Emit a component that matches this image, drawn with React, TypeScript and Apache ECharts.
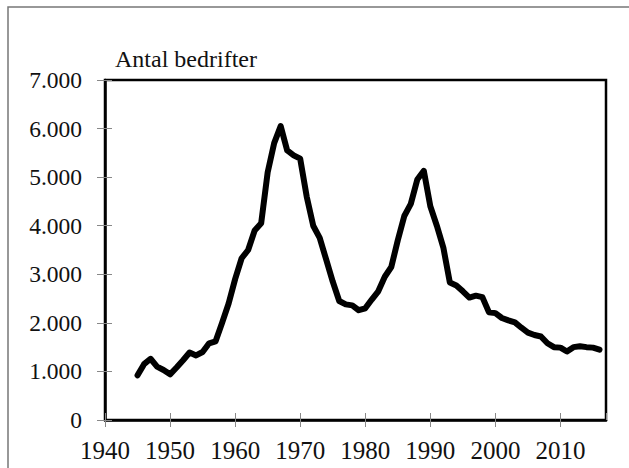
import React, { useEffect, useRef } from "react";
import * as echarts from "echarts";

const years: number[] = [
  1945, 1946, 1947, 1948, 1949, 1950, 1951, 1952, 1953, 1954, 1955, 1956, 1957, 1958, 1959,
  1960, 1961, 1962, 1963, 1964, 1965, 1966, 1967, 1968, 1969, 1970, 1971, 1972, 1973, 1974,
  1975, 1976, 1977, 1978, 1979, 1980, 1981, 1982, 1983, 1984, 1985, 1986, 1987, 1988, 1989,
  1990, 1991, 1992, 1993, 1994, 1995, 1996, 1997, 1998, 1999, 2000, 2001, 2002, 2003, 2004,
  2005, 2006, 2007, 2008, 2009, 2010, 2011, 2012, 2013, 2014, 2015, 2016,
];

const companies: number[] = [
  920, 1150, 1260, 1100, 1030, 940, 1080, 1230, 1390, 1330, 1400, 1580, 1620, 2000, 2400,
  2900, 3330, 3500, 3900, 4050, 5100, 5700, 6050, 5550, 5450, 5380, 4600, 4000, 3750, 3300,
  2850, 2450, 2380, 2360, 2260, 2300, 2480, 2650, 2950, 3150, 3700, 4200, 4450, 4950, 5130,
  4400, 4000, 3550, 2830, 2770, 2650, 2520, 2560, 2530, 2220, 2200, 2100, 2050, 2010, 1900,
  1800, 1750, 1720, 1580, 1500, 1490, 1410, 1500, 1520, 1500, 1490, 1450,
];

const yTitle = "Antal bedrifter";
const xMin = 1940;
const xMax = 2017;
const yMax = 7000;

const FONT = "'Liberation Serif', 'Times New Roman', serif";

function fmt(v: number): string {
  if (v === 0) return "0";
  const s = String(Math.round(v));
  return s.replace(/\B(?=(\d{3})+(?!\d))/g, ".");
}

export default function App() {
  const ref = useRef<HTMLDivElement>(null);

  useEffect(() => {
    if (!ref.current) return;
    const chart = echarts.init(ref.current, undefined, { renderer: "svg" });
    const grid = { left: 105, right: 23, top: 80, bottom: 48 };
    chart.setOption({
      animation: false,
      backgroundColor: "#fff",
      title: {
        text: yTitle,
        left: 115,
        top: 47,
        padding: 0,
        textStyle: { fontFamily: FONT, fontSize: 24, fontWeight: "normal", color: "#111" },
      },
      graphic: [
        {
          type: "rect",
          shape: { x: 8, y: 7, width: 700, height: 600 },
          style: { fill: "none", stroke: "#777", lineWidth: 1.5 },
          silent: true,
        },
      ],
      grid: {
        ...grid,
        show: true,
        borderColor: "#000",
        borderWidth: 2.5,
        backgroundColor: "#fff",
      },
      xAxis: [
        {
          type: "value",
          min: xMin,
          max: xMax,
          interval: 10,
          position: "bottom",
          axisLine: { show: true, onZero: false, lineStyle: { color: "#000", width: 2.5 } },
          axisTick: { show: true, inside: false, length: 7, lineStyle: { color: "#888", width: 1 } },
          axisLabel: {
            margin: 18,
            fontFamily: FONT,
            fontSize: 25,
            color: "#111",
            formatter: (v: number) => (v % 10 === 0 ? String(v) : ""),
            showMaxLabel: false,
          },
          splitLine: { show: false },
        },
        {
          type: "value",
          min: xMin,
          max: xMax,
          interval: 10,
          position: "bottom",
          axisLine: { show: false, onZero: false },
          axisTick: { show: true, inside: true, length: 7, lineStyle: { color: "#888", width: 1 } },
          axisLabel: { show: false },
          splitLine: { show: false },
        },
      ],
      yAxis: [
        {
          type: "value",
          min: 0,
          max: yMax,
          interval: 1000,
          position: "left",
          axisLine: { show: true, onZero: false, lineStyle: { color: "#000", width: 2.5 } },
          axisTick: { show: true, inside: false, length: 8, lineStyle: { color: "#888", width: 1 } },
          axisLabel: {
            margin: 23,
            fontFamily: FONT,
            fontSize: 23.5,
            color: "#111",
            formatter: (v: number) => fmt(v),
          },
          splitLine: { show: false },
        },
        {
          type: "value",
          min: 0,
          max: yMax,
          interval: 1000,
          position: "left",
          axisLine: { show: false, onZero: false },
          axisTick: { show: true, inside: true, length: 7, lineStyle: { color: "#888", width: 1 } },
          axisLabel: { show: false },
          splitLine: { show: false },
        },
      ],
      series: [
        {
          type: "line",
          data: years.map((y, i) => [y, companies[i]]),
          xAxisIndex: 0,
          yAxisIndex: 0,
          showSymbol: false,
          symbol: "none",
          lineStyle: { color: "#000", width: 6, join: "round", cap: "round" },
          z: 5,
        },
      ],
    });
    return () => chart.dispose();
  }, []);

  return (
    <div
      ref={ref}
      style={{ position: "fixed", left: 0, top: 0, width: 629, height: 468, background: "#fff" }}
    />
  );
}
